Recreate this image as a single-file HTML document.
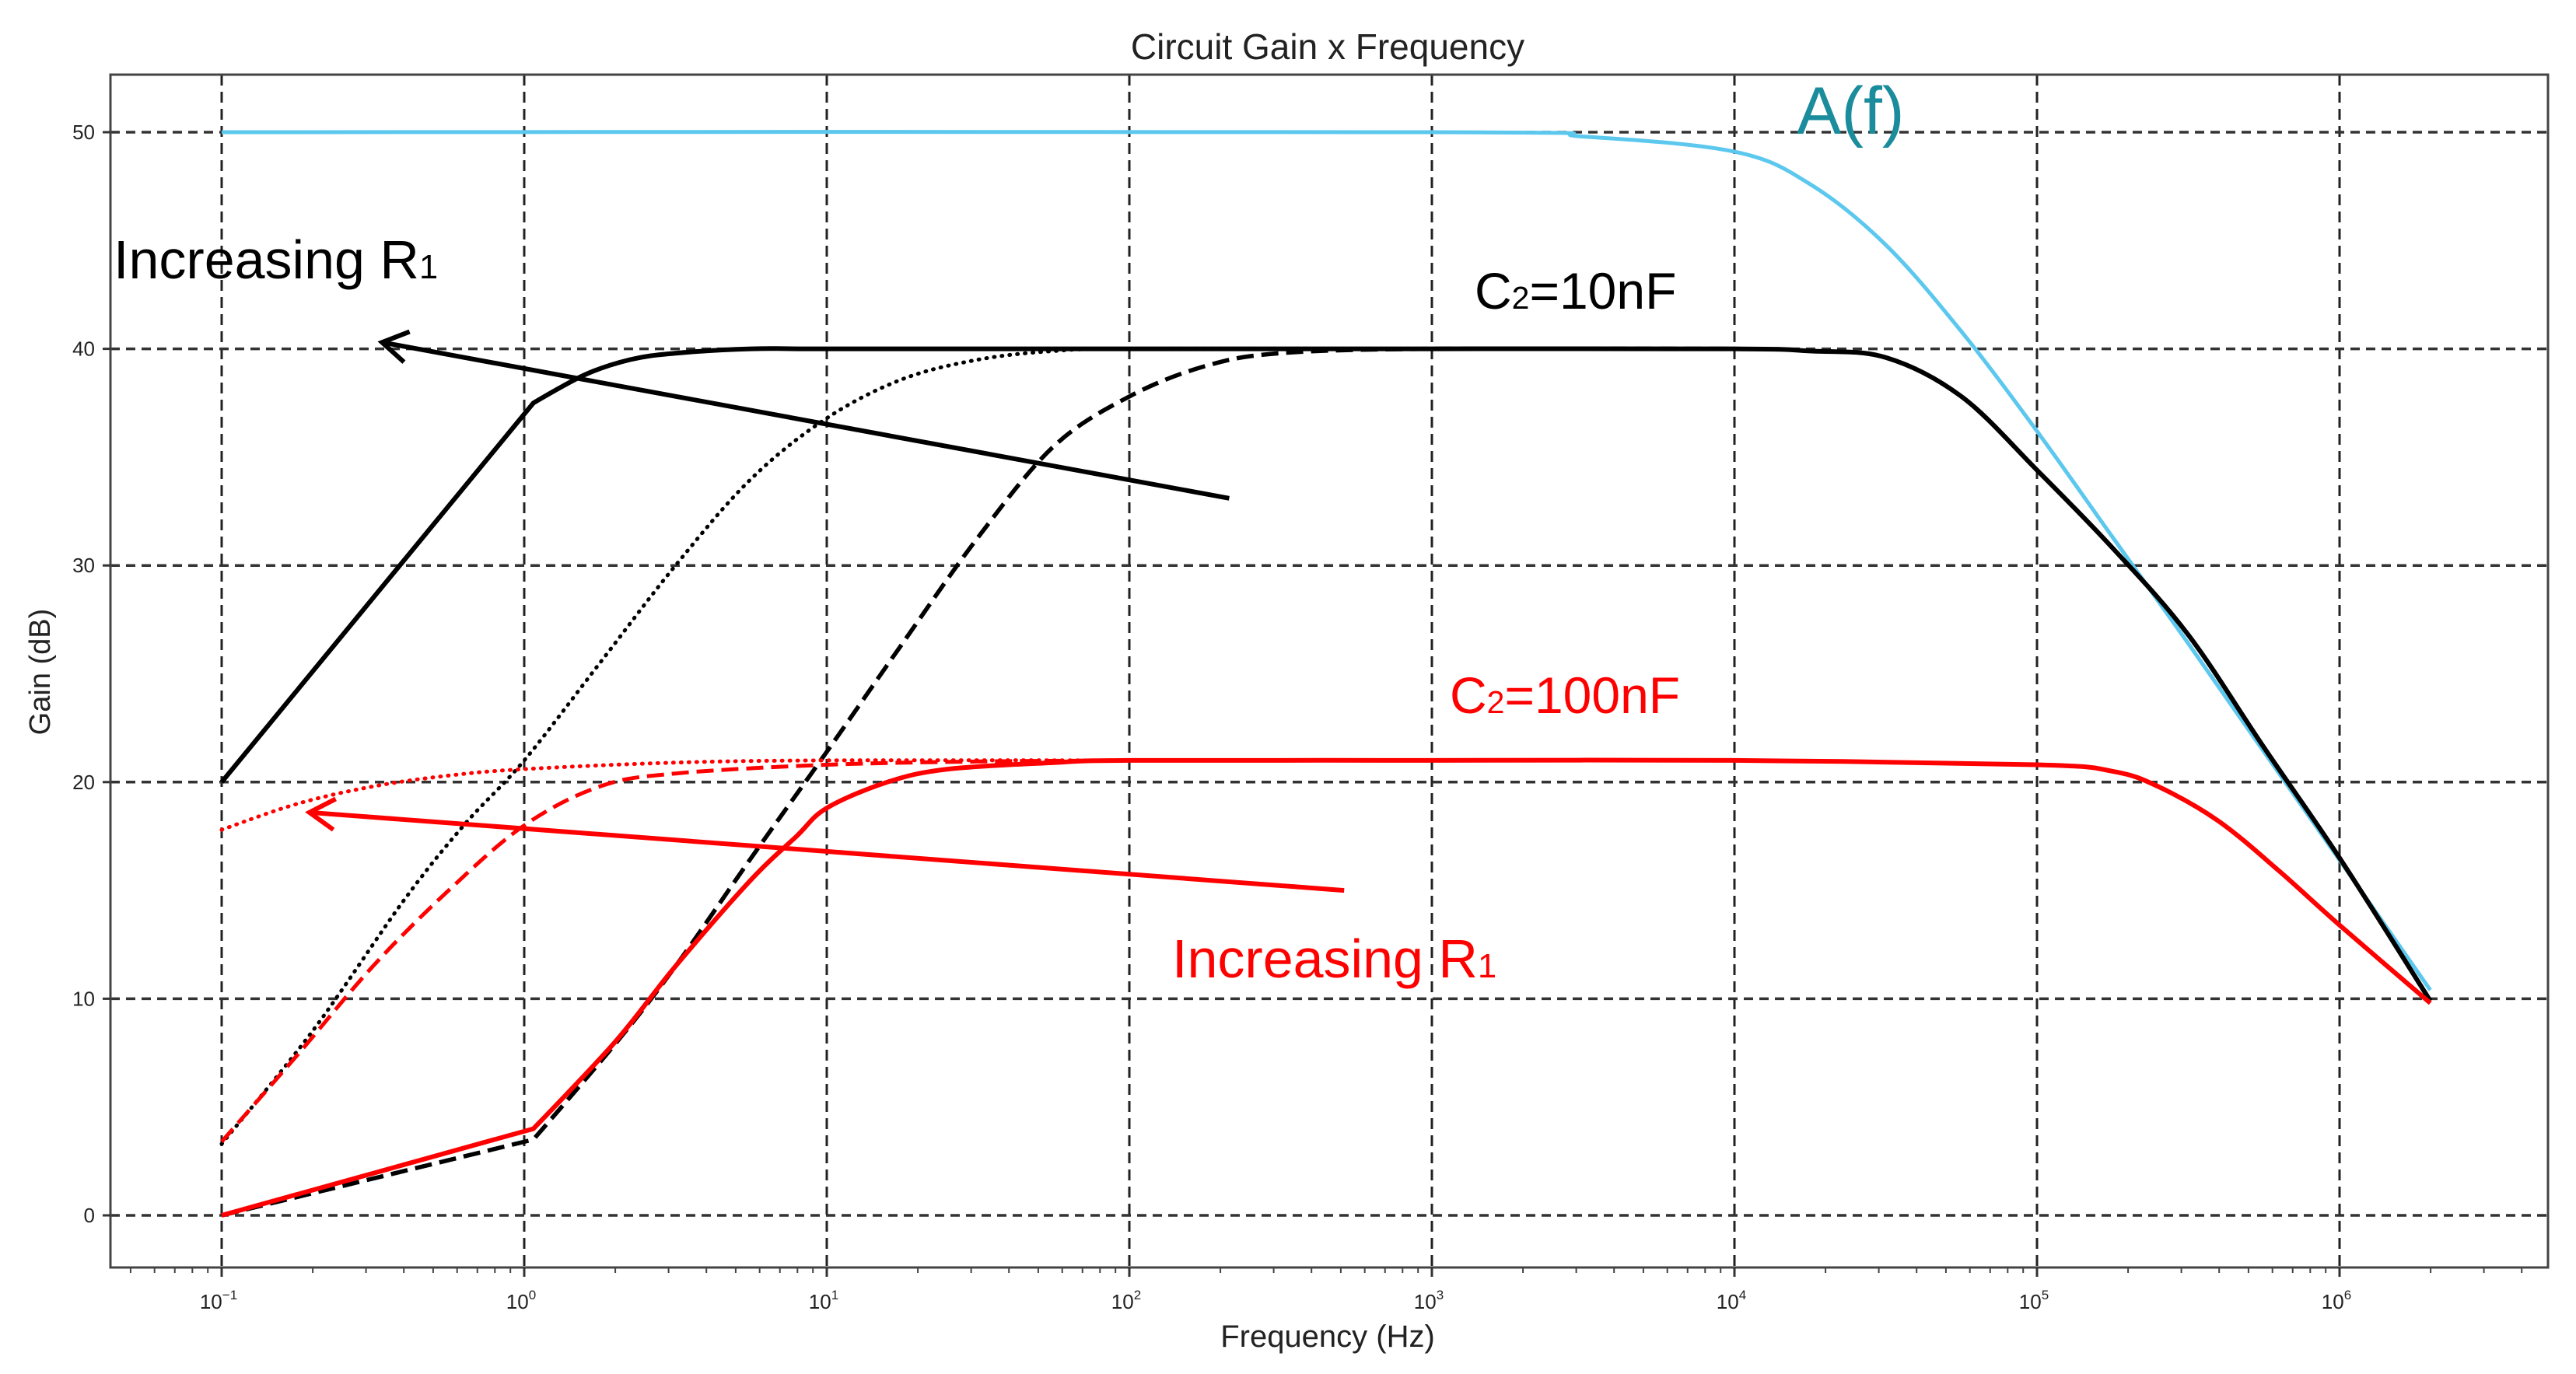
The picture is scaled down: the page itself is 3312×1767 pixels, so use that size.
<!DOCTYPE html>
<html><head><meta charset="utf-8"><style>
html,body{margin:0;padding:0;background:#fff;}
svg{display:block;}
text{font-family:"Liberation Sans",sans-serif;}
</style></head><body>
<svg id="chart" width="3312" height="1767" viewBox="0 0 3312 1767" xmlns="http://www.w3.org/2000/svg">
<rect x="0" y="0" width="3312" height="1767" fill="#fff"/>
<g id="grid"></g>
<g id="series"></g>
<g id="axes"></g>
<g id="ann"></g>
</svg>
<script>
// ---- data (x in log10(Hz), y in dB) ----
const xTicks = [-1,0,1,2,3,4,5,6];
const yTicks = [0,10,20,30,40,50];
const cyanX = [-1,3,3.5,4,4.25,4.5,4.75,5,5.25,5.5,5.75,6,6.3];
const cyanY = [50,50,49.8,49.1,47.6,44.8,40.8,36.2,31.3,26.4,21.4,16.4,10.4];
const blackSolidX = [-1,0.03,0.2,0.35,0.5,0.75,1,2,3,4,4.25,4.5,4.75,5,5.25,5.5,5.75,6,6.3];
const blackSolidY = [20,37.5,38.8,39.5,39.8,40,40,40,40,40,39.9,39.6,37.8,34.4,30.8,26.8,21.6,16.5,9.9];
const blackDottedX = [-1,-0.7,-0.4,-0.2,0,0.25,0.5,0.75,1,1.25,1.5,1.75,2,3];
const blackDottedY = [3.3,8.5,14.5,18,21,25.5,30,34,36.8,38.6,39.5,39.9,40,40];
const blackDashedX = [-1,0.03,0.3,0.5,0.75,1,1.25,1.5,1.75,2,2.25,2.5,3,4];
const blackDashedY = [0,3.5,7.9,11.5,16.5,21.4,26.4,31.3,35.5,37.8,39.2,39.8,40,40];
const redSolidX = [-1,0.03,0.3,0.5,0.75,0.9,1,1.2,1.4,1.75,2,3,4,5,5.25,5.4,5.6,5.8,6,6.3];
const redSolidY = [0,4,8,11.5,15.5,17.5,18.8,20,20.6,20.9,21,21,21,20.8,20.5,19.8,18.2,15.9,13.4,9.8];
const redDashedX = [-1,-0.75,-0.5,-0.25,0,0.25,0.5,1,1.5,2];
const redDashedY = [3.4,7.4,11.5,15,18,19.8,20.4,20.8,20.95,21];
const redDottedX = [-1,-0.75,-0.5,-0.25,0,0.5,1,2];
const redDottedY = [17.8,19,19.8,20.3,20.6,20.9,21,21];
// arrows: [tailX, tailY, headX, headY] in data coords
const blackArrow = [2.33,33.1,-0.47,40.3];
const redArrow = [2.71,15.0,-0.71,18.6];

// ---- axis functions ----
const PL=142, PR=3276, PT=96, PB=1630;
const X0=285, DEC=389, Y0=1563, PDB=27.86;
function sx(v){return X0+(v+1)*DEC;}
function sy(v){return Y0-v*PDB;}
const NS='http://www.w3.org/2000/svg';
function mk(tag,attrs,parent){const e=document.createElementNS(NS,tag);for(const k in attrs)e.setAttribute(k,attrs[k]);parent.appendChild(e);return e;}
const grid=document.getElementById('grid'), series=document.getElementById('series'), axes=document.getElementById('axes'), ann=document.getElementById('ann');

xTicks.forEach(t=>{
  const l=mk('line',{x1:sx(t),x2:sx(t),y1:PT,y2:PB,stroke:'#222','stroke-width':3,'stroke-dasharray':'14,8'},grid);
  
  
});
yTicks.forEach(t=>{
  const l=mk('line',{x1:PL,x2:PR,y1:sy(t),y2:sy(t),stroke:'#333','stroke-width':3.5,'stroke-dasharray':'12,8'},grid);
  
  
});

function smoothPath(xs,ys,sharp){
  const P=xs.map((x,i)=>[sx(x),sy(ys[i])]);
  let d='M'+P[0][0].toFixed(1)+','+P[0][1].toFixed(1);
  for(let i=0;i<P.length-1;i++){
    if(sharp&&i<sharp){d+=' L'+P[i+1][0].toFixed(1)+','+P[i+1][1].toFixed(1);continue;}
    const p0=P[Math.max(0,i-1)],p1=P[i],p2=P[i+1],p3=P[Math.min(P.length-1,i+2)];
    const t=(sharp&&i===sharp)?0:1;
    const c1=[p1[0]+(p2[0]-p0[0])/6*t,p1[1]+(p2[1]-p0[1])/6*t];
    const c2=[p2[0]-(p3[0]-p1[0])/6,p2[1]-(p3[1]-p1[1])/6];
    d+=' C'+c1[0].toFixed(1)+','+c1[1].toFixed(1)+' '+c2[0].toFixed(1)+','+c2[1].toFixed(1)+' '+p2[0].toFixed(1)+','+p2[1].toFixed(1);
  }
  return d;
}
function drawLine(xs,ys,color,w,dash,name,sharp){
  const p=mk('path',{d:smoothPath(xs,ys,sharp),fill:'none',stroke:color,'stroke-width':w,'stroke-linejoin':'round','stroke-linecap':dash==='1,9'?'round':'butt'},series);
  if(dash)p.setAttribute('stroke-dasharray',dash);
  
  
}
drawLine(cyanX,cyanY,'#5cc8ee',5,null,'a-f-line',0);
drawLine(blackSolidX,blackSolidY,'#000',6,null,'black-solid-line',1);
drawLine(blackDottedX,blackDottedY,'#000',5,'1,9','black-dotted-line',0);
drawLine(blackDashedX,blackDashedY,'#000',5.5,'22,10','black-dashed-line',1);
drawLine(redDottedX,redDottedY,'#ff0000',5,'1,9','red-dotted-line',0);
drawLine(redDashedX,redDashedY,'#ff0000',5,'22,10','red-dashed-line',0);
drawLine(redSolidX,redSolidY,'#ff0000',6,null,'red-solid-line',1);

// axes frame
const fr=mk('rect',{x:PL,y:PT,width:PR-PL,height:PB-PT,fill:'none',stroke:'#444','stroke-width':3},axes);


for(let d=-2;d<=6;d++){for(let m=2;m<=9;m++){const v=d+Math.log10(m);const x=sx(v);if(x>PL&&x<PR){mk('line',{x1:x,x2:x,y1:PB,y2:PB+7,stroke:'#444','stroke-width':2},axes);}}}
xTicks.forEach(t=>{
  mk('line',{x1:sx(t),x2:sx(t),y1:PB,y2:PB+12,stroke:'#333','stroke-width':3},axes);
  const tx=mk('text',{x:sx(t)-4,y:PB+53,'font-size':26,'text-anchor':'middle',fill:'#222'},axes);
  
  
  tx.textContent='10';
  const sp=mk('tspan',{dy:-12,'font-size':17},tx);sp.textContent=(t<0?'\u2212':'')+Math.abs(t);
});
yTicks.forEach(t=>{
  mk('line',{x1:PL-10,x2:PL,y1:sy(t),y2:sy(t),stroke:'#333','stroke-width':3},axes);
  const tx=mk('text',{x:PL-20,y:sy(t)+9,'font-size':26,'text-anchor':'end',fill:'#222'},axes);
  
  
  tx.textContent=t;
});

function txt(s,x,y,size,color,name,anchor,rot){
  const t=mk('text',{x:x,y:y,'font-size':size,fill:color,'text-anchor':anchor||'start'},ann);
  if(rot)t.setAttribute('transform',rot);
  
  
  t.textContent=s;return t;
}
txt('Circuit Gain x Frequency',1707,76,46,'#222','chart-title','middle');
txt('Frequency (Hz)',1707,1732,40,'#222','x-axis-title','middle');
txt('Gain (dB)',0,0,38,'#222','y-axis-title','middle','translate(64,864) rotate(-90)');

function sub(main,subs,after,x,y,size,color,name){
  const t=txt(main,x,y,size,color,name);
  const s=mk('tspan',{'font-size':size*0.62},t);s.textContent=subs;
  if(after){const a=mk('tspan',{},t);a.textContent=after;}
  return t;
}
sub('Increasing R','1','',146,358,70,'#000','black-increasing-r1-label');
sub('Increasing R','1','',1507,1257,70,'#ff0000','red-increasing-r1-label');
sub('C','2','=10nF',1896,397,66,'#000','c2-10nf-label');
sub('C','2','=100nF',1864,917,66,'#ff0000','c2-100nf-label');
txt('A(f)',2310,172,86,'#1a8c9c','a-f-label');

function arrow(a,color,name){
  const x1=sx(a[0]),y1=sy(a[1]),x2=sx(a[2]),y2=sy(a[3]);
  const g=mk('g',{},ann);
  
  
  mk('line',{x1:x1,y1:y1,x2:x2,y2:y2,stroke:color,'stroke-width':6},g);
  const ang=Math.atan2(y1-y2,x1-x2),L=38,s=0.55;
  const p=(da)=>(x2+L*Math.cos(ang+da)).toFixed(1)+','+(y2+L*Math.sin(ang+da)).toFixed(1);
  mk('polyline',{points:p(s)+' '+x2+','+y2+' '+p(-s),fill:'none',stroke:color,'stroke-width':6},g);
}
arrow(blackArrow,'#000','black-arrow');
arrow(redArrow,'#ff0000','red-arrow');
</script>
</body></html>
